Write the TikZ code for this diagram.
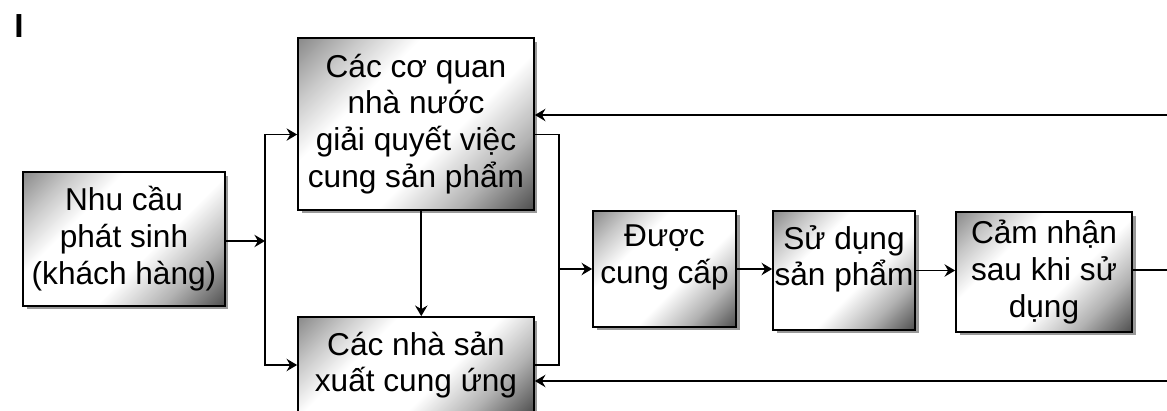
\documentclass[tikz,border=0pt]{standalone}
\usepackage{fontspec}
\setmainfont{Liberation Sans}
\usetikzlibrary{arrows.meta,shadows}

\pgfdeclarehorizontalshading{boxshade}{100bp}{color(0bp)=(black!45); color(15bp)=(black!45); color(25bp)=(black!22); color(36bp)=(white); color(58bp)=(white); color(72bp)=(black!30); color(85bp)=(black!68); color(100bp)=(black!68)}

\tikzset{
	blok/.style={draw, line width=1pt, shading=boxshade, shading angle=-45,
		drop shadow={shadow xshift=2pt, shadow yshift=-2pt, fill=black!40, opacity=1},
		align=center, inner sep=0pt, font=\fontsize{18}{21}\selectfont},
	arr/.style={-{Stealth[length=6pt,width=7pt,inset=2pt]}, line width=1pt},
	ln/.style={line width=1pt}
}

\begin{document}
\begin{tikzpicture}[x=0.02cm, y=-0.02cm]
		\useasboundingbox (0, 0) rectangle (1167, 411);
		\node (mark) at(19, 26){\fontsize{19}{21}\selectfont\bfseries I};

		\node[blok, minimum width=4.04cm, minimum height=2.68cm] (need) at(124, 239){Nhu cầu\\phát sinh\\(khách hàng)};
		\node[blok, minimum width=4.72cm, minimum height=3.44cm] (gov) at(416, 124){Các cơ quan\\nhà nước\\giải quyết việc\\cung sản phẩm};
		\node[blok, minimum width=4.72cm, minimum height=1.92cm] (prod) at(416, 365){Các nhà sản\\xuất cung ứng};
		\node[blok, minimum width=2.86cm, minimum height=2.32cm] (given) at(664.5, 269){Được\\cung cấp\\[-4pt]\mbox{}};
		\node[blok, minimum width=2.84cm, minimum height=2.38cm] (use) at(844, 270.5){Sử dụng\\sản phẩm\\[-4pt]\mbox{}};
		\node[blok, minimum width=3.52cm, minimum height=2.4cm] (feel) at(1044, 272){Cảm nhận\\sau khi sử\\dụng};

		\coordinate (split) at(265, 241);
		\coordinate (jt) at(559, 134);
		\coordinate (jb) at(559, 363);
		\coordinate (out) at(1175, 270);
		\coordinate (fbt) at(1175, 115);
		\coordinate (fbb) at(1175, 381);

		\draw[arr] (need.east |- split) to (split);
		\draw[arr] (split) |- ([yshift=-6pt]gov.west);
		\draw[arr] (split) |- (prod.west);
		\draw[arr] ([xshift=3pt]gov.south) to ([xshift=3pt]prod.north);
			\draw[ln] ([yshift=-6pt]gov.east) -| (jb) to (prod.east -| jb) to (prod.east);
			\draw[arr] (jb |- given) to (given.west);
		\draw[arr] (given.east) to (given.east -| use.west);
		\draw[arr] (use.east) to (use.east -| feel.west);
		\draw[ln] (feel.east |- out) to (out);
			\draw[arr] (fbt) to (fbt -| gov.east);
			\draw[arr] (fbb) to (fbb -| prod.east);
	\end{tikzpicture}
\end{document}
